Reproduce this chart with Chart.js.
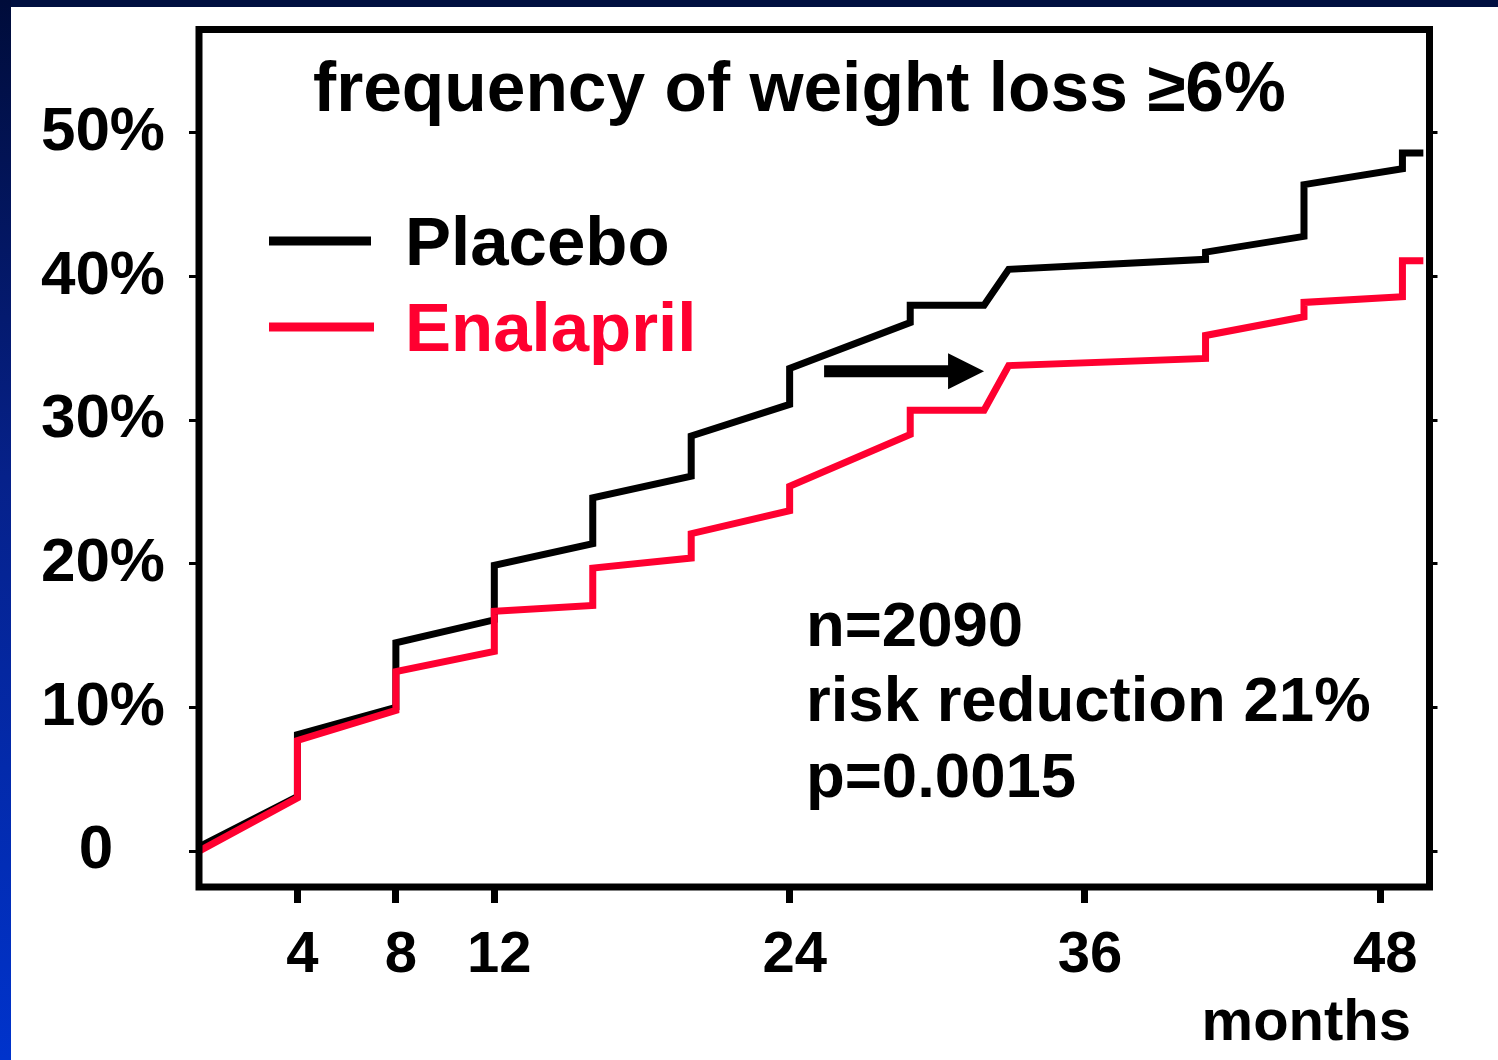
<!DOCTYPE html>
<html><head><meta charset="utf-8">
<script src="https://cdn.jsdelivr.net/npm/chart.js@4.4.0/dist/chart.umd.min.js"></script>
<style>
html,body{margin:0;padding:0;background:#fff;width:1498px;height:1060px;overflow:hidden}
#wrap{position:relative;width:1498px;height:1060px;background:#fff}
#topband{position:absolute;left:0;top:0;width:1498px;height:7px;background:#000f40}
#leftband{position:absolute;left:0;top:0;width:11px;height:1060px;background:linear-gradient(#000c3a,#06218a 45%,#0033cc)}
canvas{position:absolute;left:0;top:0}
</style></head><body>
<div id="wrap"><div id="topband"></div><div id="leftband"></div><canvas id="c" width="1498" height="1060"></canvas></div>
<script>
const titleText = 'frequency of weight loss \u22656%';
const seriesLabels = ['Placebo', 'Enalapril'];
const monthTicks = [4, 8, 12, 24, 36, 48];
const percentTicks = [0, 10, 20, 30, 40, 50];
const placeboMonths = [0, 4, 4, 8, 8, 12, 12, 16, 16, 20, 20, 24, 24, 28.9, 28.9, 31.9, 32.9, 40.9, 40.9, 44.9, 44.9, 48.9, 48.9, 49.75];
const placeboValues = [0.3, 3.8, 8.1, 10.0, 14.5, 16.1, 19.9, 21.4, 24.6, 26.1, 28.9, 31.1, 33.6, 36.8, 38.0, 38.0, 40.5, 41.2, 41.7, 42.8, 46.4, 47.5, 48.6, 48.6];
const enalaprilMonths = [0, 4, 4, 8, 8, 12, 12, 16, 16, 20, 20, 24, 24, 28.9, 28.9, 31.9, 32.9, 40.9, 40.9, 44.9, 44.9, 48.9, 48.9, 49.75];
const enalaprilValues = [0, 3.7, 7.7, 9.8, 12.5, 13.9, 16.7, 17.1, 19.7, 20.4, 22.1, 23.7, 25.4, 29.0, 30.7, 30.7, 33.8, 34.3, 35.9, 37.2, 38.2, 38.6, 41.1, 41.1];
const statLines = ['n=2090', 'risk reduction 21%', 'p=0.0015'];
const arrowFrom = {x: 25.4, y: 33.4};
const arrowTo = {x: 31.9, y: 33.4};

const FONT = "'Liberation Sans', Arial, sans-serif";
const BLACK = '#000000';
const RED = '#ff0030';

function pts(xs, ys) { return xs.map((x, i) => ({x: x, y: ys[i]})); }

const overlay = {
  id: 'overlay',
  afterDatasetsDraw(chart) {
    const ctx = chart.ctx, a = chart.chartArea;
    const xs = chart.scales.x, ys = chart.scales.y;
    ctx.save();
    // box
    ctx.lineWidth = 7; ctx.strokeStyle = BLACK; ctx.lineJoin = 'miter';
    ctx.strokeRect(a.left, a.top, a.right - a.left, a.bottom - a.top);
    // title
    ctx.fillStyle = BLACK; ctx.textAlign = 'left'; ctx.textBaseline = 'alphabetic';
    ctx.font = 'bold 69.5px ' + FONT;
    ctx.fillText(titleText, 313, 111);
    // legend
    const ds = chart.data.datasets;
    const legY = [241, 327];
    ds.forEach((d, i) => {
      ctx.strokeStyle = d.borderColor; ctx.lineWidth = 9; ctx.lineCap = 'butt';
      ctx.beginPath(); ctx.moveTo(269, legY[i]); ctx.lineTo(i === 0 ? 371 : 374, legY[i]); ctx.stroke();
      ctx.fillStyle = d.borderColor; ctx.font = 'bold 69px ' + FONT;
      ctx.fillText(d.label, 405, legY[i] + 24);
    });
    // stats
    ctx.fillStyle = BLACK; ctx.font = 'bold 63.5px ' + FONT;
    const sb = [646, 721, 797];
    statLines.forEach((t, i) => ctx.fillText(t, 806, sb[i]));
    // months label
    ctx.font = 'bold 58px ' + FONT; ctx.textAlign = 'right';
    ctx.fillText('months', 1411, 1040);
    // arrow
    const x0 = xs.getPixelForValue(arrowFrom.x), x1 = xs.getPixelForValue(arrowTo.x);
    const y0 = ys.getPixelForValue(arrowFrom.y);
    const headLen = 36, headHalf = 18;
    ctx.strokeStyle = BLACK; ctx.lineWidth = 12; ctx.lineCap = 'butt';
    ctx.beginPath(); ctx.moveTo(x0, y0); ctx.lineTo(x1 - headLen + 2, y0); ctx.stroke();
    ctx.fillStyle = BLACK;
    ctx.beginPath(); ctx.moveTo(x1, y0); ctx.lineTo(x1 - headLen, y0 - headHalf); ctx.lineTo(x1 - headLen, y0 + headHalf); ctx.closePath(); ctx.fill();
    ctx.restore();
  }
};

function noPad(s) { s.paddingTop = 0; s.paddingBottom = 0; s.paddingLeft = 0; s.paddingRight = 0; }

new Chart(document.getElementById('c'), {
  type: 'line',
  data: {
    datasets: [
      {label: seriesLabels[0], data: pts(placeboMonths, placeboValues), borderColor: BLACK, backgroundColor: BLACK, borderWidth: 7, pointRadius: 0, tension: 0, order: 1, clip: false},
      {label: seriesLabels[1], data: pts(enalaprilMonths, enalaprilValues), borderColor: RED, backgroundColor: RED, borderWidth: 7, pointRadius: 0, tension: 0, order: 0, clip: false}
    ]
  },
  options: {
    responsive: false, animation: false, devicePixelRatio: 1,
    layout: {padding: {top: 29.5, left: 0, right: 0, bottom: 0}},
    plugins: {legend: {display: false}, tooltip: {enabled: false}, title: {display: false}},
    scales: {
      x: {
        type: 'linear', min: 0, max: 50,
        afterBuildTicks: s => { s.ticks = monthTicks.map(v => ({value: v})); },
        afterFit: s => { s.height = 173; noPad(s); },
        grid: {drawOnChartArea: false, drawTicks: true, tickLength: 16, tickWidth: 7, tickColor: BLACK},
        border: {display: false},
        ticks: {color: BLACK, font: {family: FONT, size: 58, weight: 'bold'}, padding: 18, labelOffset: 5, maxRotation: 0, autoSkip: false,
                callback: v => String(v)}
      },
      y: {
        type: 'linear', min: -2.5, max: 57.2, position: 'left',
        afterBuildTicks: s => { s.ticks = percentTicks.map(v => ({value: v})); },
        afterFit: s => { s.width = 199; noPad(s); },
        grid: {drawOnChartArea: false, drawTicks: true, tickLength: 10, tickWidth: 3, tickColor: BLACK},
        border: {display: false},
        ticks: {color: BLACK, font: {family: FONT, size: 62, weight: 'bold'}, padding: 24, autoSkip: false,
                callback: v => v === 0 ? '0\u2007 ' : v + '%'}
      },
      y2: {
        type: 'linear', min: -2.5, max: 57.2, position: 'right',
        afterBuildTicks: s => { s.ticks = percentTicks.map(v => ({value: v})); },
        afterFit: s => { s.width = 68.5; noPad(s); },
        grid: {drawOnChartArea: false, drawTicks: true, tickLength: 8, tickWidth: 3, tickColor: BLACK},
        border: {display: false},
        ticks: {display: false}
      }
    }
  },
  plugins: [overlay]
});
</script>
</body></html>
